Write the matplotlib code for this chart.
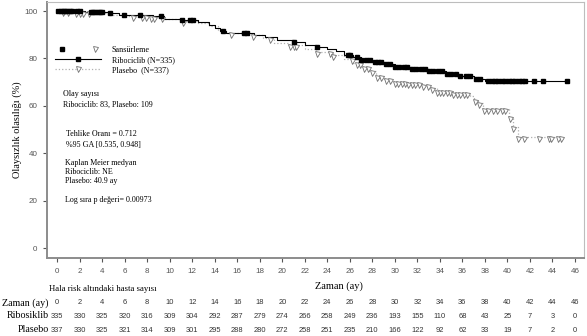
import numpy as np
import matplotlib.pyplot as plt
from matplotlib.lines import Line2D
from matplotlib.legend_handler import HandlerTuple
from matplotlib.transforms import blended_transform_factory

# --- veri ---
rib_t = [0, 2.5, 4.5, 5.5, 8.5, 9.5, 11, 12.5, 13.5, 14, 14.5, 15, 17.5, 18.5, 19.5,
         21, 22, 23, 24, 24.8, 25.5, 26.3, 27, 28, 29, 30, 31.5, 33, 34.5, 35.5, 37, 38]
rib_s = [100, 99.6, 99.2, 98.5, 97.8, 96.8, 96.0, 95.2, 94.0, 93.0, 91.5, 90.7, 90.0, 89.0, 87.8,
         86.8, 85.8, 84.8, 84.0, 83.0, 81.5, 80.5, 79.5, 78.5, 77.5, 76.5, 75.5, 74.5, 73.5, 72.5, 71.5, 70.5]
rib_cens = [0.1, 0.3, 0.5, 0.7, 0.9, 1.1, 1.3, 1.8, 2.0, 3.0, 3.2, 3.4, 3.6, 3.8, 4.0, 4.7, 5.9,
            7.4, 9.2, 11.1, 11.8, 12.1, 14.7, 16.6, 16.9, 21.0, 23.1, 25.8, 26.0, 26.6, 27.0, 27.4,
            27.8, 28.2, 28.5, 28.8, 29.2, 29.6, 30.0, 30.4, 30.8, 31.1, 31.5, 31.9, 32.3, 32.7, 33.0,
            33.4, 33.8, 34.2, 34.6, 35.0, 35.4, 35.8, 36.3, 36.7, 37.2, 37.6, 38.3, 38.6, 38.9, 39.2,
            39.5, 39.8, 40.1, 40.4, 40.7, 41.0, 41.3, 41.6, 42.4, 43.2, 45.3]

pla_t = [0, 1.5, 3, 4.5, 6, 8, 9.5, 11, 12.5, 13.5, 14.3, 15, 17, 18.3, 19.3, 20.5, 22, 23,
         24.5, 25.5, 26.3, 27, 27.7, 28.3, 29, 29.7, 31, 32.3, 33, 33.7, 35, 36.7, 37, 37.4,
         37.8, 40.1, 40.5, 40.9]
pla_s = [100, 99.5, 99.0, 98.2, 97.8, 97.3, 96.6, 95.8, 94.8, 93.5, 92.0, 90.7, 90.0, 88.5,
         86.5, 85.5, 84.0, 82.5, 81.3, 79.8, 78.2, 76.5, 74.5, 72.5, 71.3, 70.2, 69.5, 68.6,
         67.5, 66.2, 65.3, 64.2, 62.5, 61.0, 58.6, 55.3, 51.0, 46.8]
pla_cens = [0.5, 1.0, 1.7, 2.0, 2.3, 2.8, 6.7, 7.5, 7.9, 8.3, 8.6, 9.3, 11.2, 15.4, 17.4, 18.9,
            20.7, 21.0, 21.2, 23.1, 24.2, 24.5, 26.2, 26.6, 26.9, 27.3, 27.6, 28.0, 28.4, 28.8,
            29.2, 29.6, 30.0, 30.3, 30.6, 30.9, 31.2, 31.5, 31.8, 32.1, 32.5, 32.9, 33.3, 33.7,
            34.0, 34.3, 34.6, 34.9, 35.2, 35.5, 35.8, 36.1, 36.4, 37.1, 37.5, 37.9, 38.3, 38.7,
            39.1, 39.5, 39.8, 40.2, 40.5, 40.9, 41.5, 42.8, 43.7, 43.9, 44.5, 44.8]

risk_times = list(range(0, 48, 2))
risk_rib = [335, 330, 325, 320, 316, 309, 304, 292, 287, 279, 274, 266, 258, 249, 236, 193,
            155, 110, 68, 43, 25, 7, 3, 0]
risk_pla = [337, 330, 325, 321, 314, 309, 301, 295, 288, 280, 272, 258, 251, 235, 210, 166,
            122, 92, 62, 33, 19, 7, 2, 0]

serif = 'Liberation Serif'
sans = 'Liberation Sans'


def step_value(t, s, x):
    idx = np.searchsorted(t, x, side='right') - 1
    return np.asarray(s)[idx]


fig = plt.figure(figsize=(5.87, 3.36), dpi=100)
ax = fig.add_axes([47 / 587, 1 - 258 / 336, 537 / 587, 256 / 336])

ax.step(pla_t + [44.8], pla_s + [pla_s[-1]], where='post', color='#b0b0b0', lw=0.9, ls=':')
ax.step(rib_t + [45.3], rib_s + [rib_s[-1]], where='post', color='black', lw=0.8)

ax.plot(pla_cens, step_value(pla_t, pla_s, pla_cens) - 0.8, ls='none', marker='v',
        ms=3.6, mfc='white', mec='#707070', mew=0.6)
ax.plot(rib_cens, step_value(rib_t, rib_s, rib_cens), ls='none', marker='s',
        ms=2.6, color='black')

ax.set_xlim(-0.9, 46.8)
ax.set_ylim(-4.2, 103.8)
ax.set_xticks(risk_times)
ax.set_yticks([0, 20, 40, 60, 80, 100])
for sp in ['left', 'bottom']:
    ax.spines[sp].set_color('#8c8c8c')
    ax.spines[sp].set_linewidth(1.4)
for sp in ['top', 'right']:
    ax.spines[sp].set_color('#bdbdbd')
    ax.spines[sp].set_linewidth(0.8)
ax.tick_params(colors='#555555', length=3, width=0.8, labelsize=5.8, pad=4)
for lab in ax.get_xticklabels() + ax.get_yticklabels():
    lab.set_fontfamily(sans)

ax.set_ylabel('Olaysızlık olasılığı (%)', family=serif, fontsize=7.5)
ax.yaxis.set_label_coords(-0.047, 0.5)
fig.text(315 / 587, 1 - 286 / 336, 'Zaman (ay)', family=serif, fontsize=7.5,
         ha='left', va='center')
fig.text(49 / 587, 1 - 289 / 336, 'Hala risk altındaki hasta sayısı', family=serif,
         fontsize=6.3, ha='left', va='center')

# lejant
h_cens = (Line2D([], [], ls='none', marker='s', ms=2.6, color='black'),
          Line2D([], [], ls='none', marker='v', ms=3.6, mfc='white', mec='#707070', mew=0.6))
h_rib = Line2D([], [], color='black', lw=0.8, marker='s', ms=2.6)
h_pla = Line2D([], [], color='#b0b0b0', lw=0.9, ls=':', marker='v', ms=3.6,
               mfc='white', mec='#707070', mew=0.6)
ax.legend([h_cens, h_rib, h_pla], ['Sansürleme', 'Ribociclib (N=335)', 'Plasebo  (N=337)'],
          handler_map={tuple: HandlerTuple(ndivide=None, pad=2.5)},
          loc='upper left', bbox_to_anchor=(0.005, 0.85), frameon=False,
          prop={'family': serif, 'size': 5.9}, handlelength=5.6, handletextpad=1.3,
          labelspacing=0.25, borderpad=0.2)

# istatistik metinleri
notes = [(63, 94, 'Olay sayısı'),
         (63, 105, 'Ribociclib: 83, Plasebo: 109'),
         (66, 134, 'Tehlike Oranı = 0.712'),
         (66, 145, '%95 GA [0.535, 0.948]'),
         (65, 163, 'Kaplan Meier medyan'),
         (65, 172, 'Ribociclib: NE'),
         (65, 181, 'Plasebo: 40.9 ay'),
         (65, 200, 'Log sıra p değeri= 0.00973')]
for x, y, s in notes:
    fig.text(x / 587, 1 - y / 336, s, family=serif, fontsize=5.8, ha='left', va='center')

# risk tablosu
tr = blended_transform_factory(ax.transData, fig.transFigure)
rows = [('Zaman (ay)', risk_times, 303), ('Ribosiklib', risk_rib, 316), ('Plasebo', risk_pla, 330)]
for name, vals, y in rows:
    fig.text(49 / 587, 1 - y / 336, name, family=serif, fontsize=7.2, ha='right', va='center')
    for t, v in zip(risk_times, vals):
        ax.text(t, 1 - y / 336, str(v), transform=tr, family=sans, fontsize=5.4,
                color='#333333', ha='center', va='center', clip_on=False)

fig.savefig('out.png', dpi=100)
